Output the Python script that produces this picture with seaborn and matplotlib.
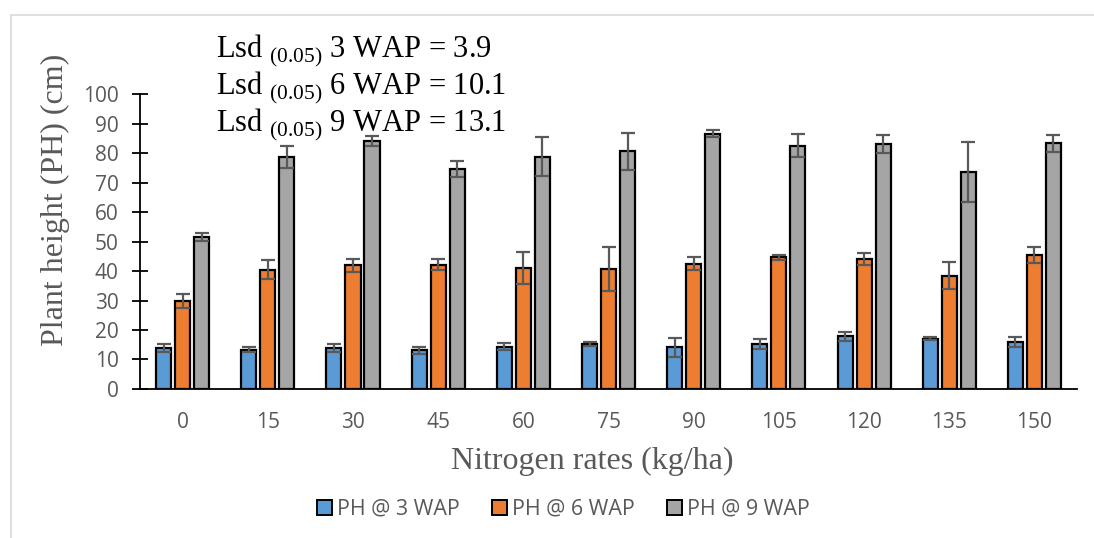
import numpy as np
import pandas as pd
import seaborn as sns
import matplotlib.pyplot as plt
from matplotlib.lines import Line2D
from matplotlib.patches import Patch

# nitrogen rates (kg/ha)
rates = ['0', '15', '30', '45', '60', '75', '90', '105', '120', '135', '150']
series = ['PH @ 3 WAP', 'PH @ 6 WAP', 'PH @ 9 WAP']

ph3 = [13.9, 13.3, 13.9, 13.1, 14.4, 15.3, 14.1, 15.2, 17.8, 17.1, 15.9]
ph6 = [29.9, 40.5, 41.9, 42.1, 41.0, 40.7, 42.5, 44.7, 44.1, 38.4, 45.5]
ph9 = [51.5, 78.7, 84.1, 74.7, 78.8, 80.6, 86.6, 82.5, 83.2, 73.6, 83.3]

err3 = [1.4, 0.9, 1.4, 1.2, 1.1, 0.7, 3.1, 1.6, 1.6, 0.6, 1.6]
err6 = [2.4, 3.3, 2.2, 1.9, 5.3, 7.6, 2.2, 0.8, 1.9, 4.6, 2.7]
err9 = [1.4, 3.7, 1.8, 2.7, 6.6, 6.3, 1.2, 3.9, 3.0, 10.1, 2.9]

lsd_lines = ['Lsd $_{\\mathrm{(0.05)}}$ 3 WAP = 3.9',
             'Lsd $_{\\mathrm{(0.05)}}$ 6 WAP = 10.1',
             'Lsd $_{\\mathrm{(0.05)}}$ 9 WAP = 13.1']

colors = ['#5B9BD5', '#ED7D31', '#A5A5A5']
grey_txt = '#595959'

df = pd.DataFrame({
    'rate': rates * 3,
    'series': np.repeat(series, len(rates)),
    'ph': ph3 + ph6 + ph9,
    'err': err3 + err6 + err9,
})

sns.set_style('white')
plt.rcParams['font.family'] = ['Open Sans', 'DejaVu Sans']
plt.rcParams['mathtext.fontset'] = 'custom'
plt.rcParams['mathtext.rm'] = 'Liberation Serif'

fig = plt.figure(figsize=(10.94, 5.38), dpi=100)
ax = fig.add_axes([0.128, 0.277, 0.8565, 0.548])

sns.barplot(data=df, x='rate', y='ph', hue='series', order=rates, hue_order=series,
            palette=colors, saturation=1, width=0.67, gap=0.21, errorbar=None,
            edgecolor='black', linewidth=1.6, legend=False, ax=ax)

# error bars on top of each bar, using the bar positions seaborn produced
for i, s in enumerate(series):
    bars = ax.containers[i]
    sub = df[df['series'] == s]
    xs = [b.get_x() + b.get_width() / 2 for b in bars]
    ax.errorbar(xs, sub['ph'].values, yerr=sub['err'].values, fmt='none',
                ecolor=grey_txt, elinewidth=1.6, capsize=5, capthick=1.6, zorder=5)

ax.set_ylim(0, 100)
ax.set_xlim(-0.5, len(rates) - 0.5)
ax.set_yticks(range(0, 101, 10))
sns.despine(ax=ax)
ax.spines['left'].set_color('black')
ax.spines['bottom'].set_color('black')
ax.spines['left'].set_linewidth(1.3)
ax.spines['bottom'].set_linewidth(1.3)
ax.tick_params(axis='y', direction='inout', length=11, width=1.3, color='black',
               left=True, labelsize=15, labelcolor=grey_txt, pad=10)
ax.tick_params(axis='x', bottom=False, labelsize=15, labelcolor=grey_txt, pad=13)

ax.set_xlabel('Nitrogen rates (kg/ha)', family='Liberation Serif', fontsize=23,
              color=grey_txt)
ax.set_ylabel('Plant height (PH) (cm)', family='Liberation Serif', fontsize=23,
              color=grey_txt)
ax.xaxis.set_label_coords(0.483, -0.195)
ax.yaxis.set_label_coords(-0.075, 0.64)

for k, line in enumerate(lsd_lines):
    fig.text(0.197, 0.906 - k * 0.069, line, family='Liberation Serif', fontsize=22,
             color='black', va='center', ha='left')

handles = [Patch(facecolor=c, edgecolor='black', linewidth=1.4) for c in colors]
fig.legend(handles, series, loc='center', bbox_to_anchor=(0.515, 0.053), ncol=3,
           frameon=False, fontsize=15.4, labelcolor=grey_txt, handlelength=0.7,
           handleheight=0.7, handletextpad=0.25, columnspacing=1.5)

# chart area border
fig.add_artist(Line2D([11 / 1094, 1], [1 - 15 / 538, 1 - 15 / 538], color='#D9D9D9', lw=1.2))
fig.add_artist(Line2D([11 / 1094, 11 / 1094], [0, 1 - 15 / 538], color='#D9D9D9', lw=1.2))

fig.savefig('out.png', dpi=100)
